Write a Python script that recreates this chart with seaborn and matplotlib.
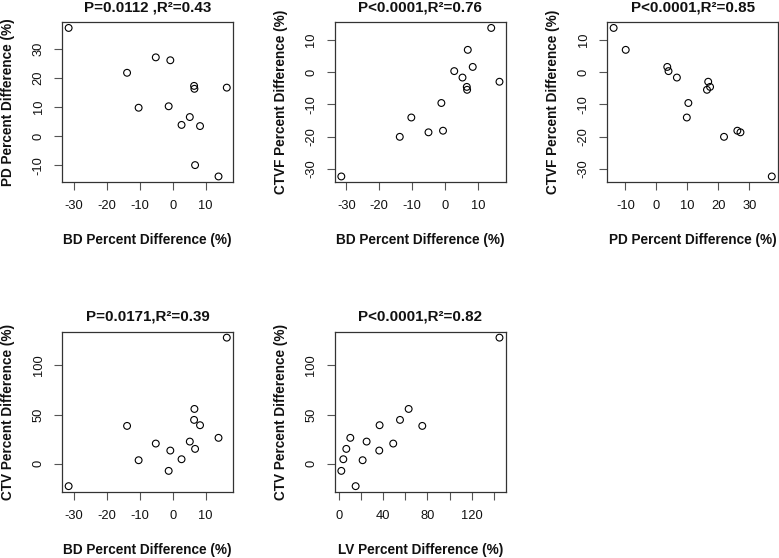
import matplotlib
matplotlib.use("Agg")
import matplotlib.pyplot as plt
import seaborn as sns
import numpy as np
import pandas as pd

# Data (percent differences, one value per subject)
BD = [-31.5, -13.8, -10.3, -5.1, -1.2, -0.7, 2.7, 5.2, 6.5, 6.6, 6.8, 8.3, 13.9, 16.4]
PD = [37.2, 21.8, 9.8, 27.1, 10.3, 26.1, 3.9, 6.6, 17.3, 16.3, -9.9, 3.5, -13.8, 16.7]
CTVF = [-32.4, -20.1, -14.1, -18.7, -9.6, -18.2, 0.3, -1.7, -4.6, -5.5, 6.9, 1.6, 13.7, -3.0]
CTV = [-22.6, 38.5, 3.7, 20.6, -7.1, 13.5, 4.7, 22.6, 44.6, 55.7, 15.2, 39.2, 26.4, 128.0]
LV = [15.3, 75.4, 21.6, 49.2, 2.4, 36.6, 4.2, 25.2, 55.3, 63.1, 6.9, 36.9, 10.5, 145.0]

titles = ["P=0.0112 ,R\u00b2=0.43", "P<0.0001,R\u00b2=0.76", "P<0.0001,R\u00b2=0.85",
          "P=0.0171,R\u00b2=0.39", "P<0.0001,R\u00b2=0.82"]
xlabels = ["BD Percent Difference (%)", "BD Percent Difference (%)", "PD Percent Difference (%)",
           "BD Percent Difference (%)", "LV Percent Difference (%)"]
ylabels = ["PD Percent Difference (%)", "CTVF Percent Difference (%)", "CTVF Percent Difference (%)",
           "CTV Percent Difference (%)", "CTV Percent Difference (%)"]
xticks_list = [[-30, -20, -10, 0, 10], [-30, -20, -10, 0, 10], [-10, 0, 10, 20, 30],
               [-30, -20, -10, 0, 10], [0, 20, 40, 60, 80, 100, 120, 140]]
xticklabels_list = [None, None, None, None, ["0", "", "40", "", "80", "", "120", ""]]
yticks_list = [[-10, 0, 10, 20, 30], [-30, -20, -10, 0, 10], [-30, -20, -10, 0, 10],
               [0, 50, 100], [0, 50, 100]]

pairs = [(BD, PD), (BD, CTVF), (PD, CTVF), (BD, CTV), (LV, CTV)]

sns.set_style("white")
plt.rcParams['font.family'] = ['Liberation Sans', 'DejaVu Sans']
plt.rcParams['axes.unicode_minus'] = False

W, H = 779, 558
fig = plt.figure(figsize=(W / 100, H / 100), dpi=100)

lefts = [62.3, 335.0, 607.3]
tops = [22.0, 331.7]
bw, bh = 170.8, 160.4

def rng(v):
    lo, hi = min(v), max(v)
    d = (hi - lo) * 0.04
    return lo - d, hi + d

for i, (xv, yv) in enumerate(pairs):
    r, c = divmod(i, 3)
    l = lefts[c]
    t = tops[r]
    ax = fig.add_axes([l / W, 1 - (t + bh) / H, bw / W, bh / H])
    df = pd.DataFrame({"x": xv, "y": yv})
    sns.scatterplot(data=df, x="x", y="y", ax=ax, marker="o", s=24,
                    facecolors="none", edgecolor="black", linewidth=0.8)
    ax.set_xlim(*rng(xv))
    ax.set_ylim(*rng(yv))
    ax.set_xticks(xticks_list[i])
    if xticklabels_list[i] is not None:
        ax.set_xticklabels(xticklabels_list[i])
    else:
        ax.set_xticklabels([str(v) for v in xticks_list[i]])
    ax.set_yticks(yticks_list[i])
    ax.set_yticklabels([str(v) for v in yticks_list[i]], rotation=90, va="center")
    ax.tick_params(axis="both", which="major", direction="out", length=5.8, width=0.8,
                   color="#555555", labelsize=9.3, labelcolor="#111111", pad=7.0,
                   bottom=True, left=True)
    for sp in ax.spines.values():
        sp.set_color("#333333")
        sp.set_linewidth(0.9)
        sp.set_visible(True)
    ax.set_xlabel(xlabels[i], fontsize=9.8, fontweight="bold", color="#111111")
    ax.set_ylabel(ylabels[i], fontsize=9.8, fontweight="bold", color="#111111")
    ax.xaxis.set_label_coords(0.5, -58.0 / bh)
    ax.xaxis.label.set_va("center")
    ax.yaxis.set_label_coords(-54.0 / bw, 0.5)
    ax.yaxis.label.set_va("center")
    ax.text(0.5, 1 + 15.0 / bh, titles[i], transform=ax.transAxes, ha="center", va="center",
            fontsize=10.9, fontweight="bold", color="#111111")
    ax.grid(False)

fig.savefig("out.png", dpi=100, facecolor="white")
